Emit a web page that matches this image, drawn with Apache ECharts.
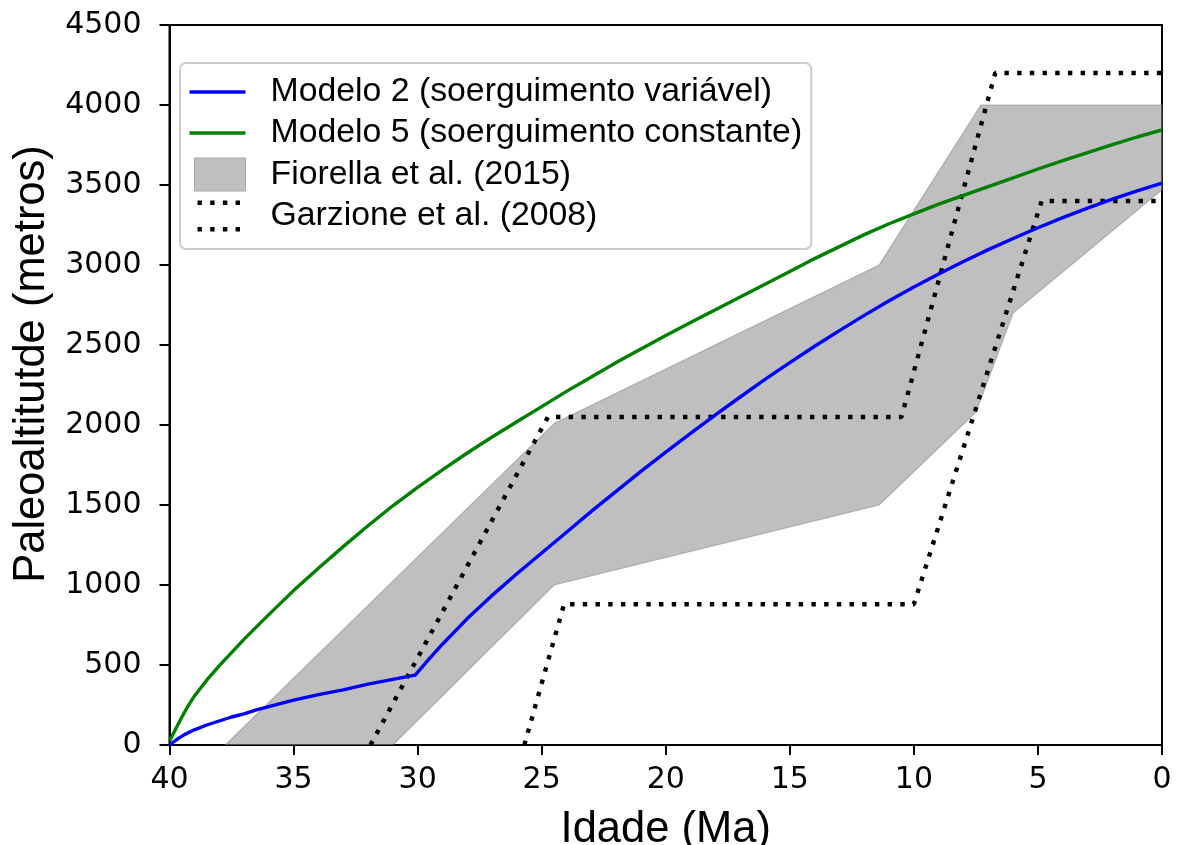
<!DOCTYPE html>
<html>
<head>
<meta charset="utf-8">
<script src="https://cdn.jsdelivr.net/npm/echarts@6/dist/echarts.min.js"></script>
<style>
  html, body { margin: 0; padding: 0; background: #ffffff; }
  #chart { width: 1177px; height: 845px; }
</style>
</head>
<body>
<div id="chart"></div>
<script>
// Idade (Ma) x Paleoaltitude (m)
const ageTicks = [40, 35, 30, 25, 20, 15, 10, 5, 0];
const altTicks = [0, 500, 1000, 1500, 2000, 2500, 3000, 3500, 4000, 4500];

// Modelo 2 (soerguimento variável): [idade, altitude]
const modelo2 = [
  [40, 0], [39.7, 35], [39.4, 65], [39, 95], [38.5, 125], [38, 150], [37.5, 175],
  [37, 195], [36.5, 220], [36, 240], [35, 280], [34, 315], [33, 345], [32, 380],
  [31, 410], [30.1, 437], [29.5, 545], [29, 630], [28, 790], [27, 935], [26, 1070],
  [25, 1200], [24, 1330], [23, 1460], [22, 1585], [21, 1710], [20, 1830], [19, 1948],
  [18, 2063], [17, 2175], [16, 2285], [15, 2390], [14, 2492], [13, 2590], [12, 2685],
  [11, 2776], [10, 2862], [9, 2944], [8, 3022], [7, 3096], [6, 3166], [5, 3233],
  [4, 3296], [3, 3356], [2, 3412], [1, 3463], [0, 3512]
];

// Modelo 5 (soerguimento constante)
const modelo5 = [
  [40, 25], [39.75, 100], [39.5, 175], [39.25, 245], [39, 305], [38.5, 405],
  [38, 495], [37, 660], [36, 815], [35, 965],
  [34, 1105], [33, 1240], [32, 1370], [31, 1495], [30, 1610], [29, 1720], [28, 1825],
  [27, 1925], [26, 2020], [25, 2115], [24, 2210], [23, 2300], [22, 2390], [21, 2475],
  [20, 2560], [19, 2640], [18, 2720], [17, 2800], [16, 2880], [15, 2960], [14, 3040],
  [13, 3115], [12, 3190], [11, 3258], [10, 3320], [9, 3380], [8, 3435], [7, 3490],
  [6, 3545], [5, 3600], [4, 3652], [3, 3702], [2, 3752], [1, 3800], [0, 3845]
];

// Fiorella et al. (2015): upper and lower limits of the envelope
const fiorellaTopo = [[37.75, 0], [24.5, 2010], [11.4, 3000], [7.3, 4000], [0, 4000]];
const fiorellaBase = [[31.0, 0], [24.5, 1000], [11.4, 1500], [7.5, 2080], [6.0, 2700], [0, 3470]];

// Garzione et al. (2008): two stepwise histories
const garzioneA = [[31.9, 0], [24.75, 2050], [10.5, 2050], [6.72, 4200], [0, 4200]];
const garzioneB = [[25.7, 0], [24.1, 880], [10.0, 880], [4.85, 3400], [0, 3400]];

const names = {
  m2: 'Modelo 2 (soerguimento variável)',
  m5: 'Modelo 5 (soerguimento constante)',
  fio: 'Fiorella et al. (2015)',
  gar: 'Garzione et al. (2008)'
};

// Legend icons (76 x 34 boxes; the invisible corner moves fix the box size)
const iconLine = 'path://M0,0M0,15.3L56,15.3L56,18.7L0,18.7ZM76,34';
const iconRect = 'path://M0,0M5,0.5L56,0.5L56,33.5L5,33.5ZM76,34';
function dotRow(y) {
  let d = '';
  [8, 20.7, 33.4, 46.1].forEach(function (x) {
    d += 'M' + x + ',' + y + 'L' + (x + 4.4) + ',' + y + 'L' + (x + 4.4) + ',' + (y + 4.4) + 'L' + x + ',' + (y + 4.4) + 'Z';
  });
  return d;
}
const iconDots = 'path://M0,0' + dotRow(1.5) + dotRow(28.1) + 'M76,34';

const chart = echarts.init(document.getElementById('chart'), null, { renderer: 'canvas' });

const axisCommon = {
  type: 'value',
  axisLine: { show: true, onZero: false, lineStyle: { color: '#000', width: 2 } },
  axisTick: { show: true, inside: false, length: 10, lineStyle: { color: '#000', width: 2 } },
  splitLine: { show: false },
  nameLocation: 'middle',
  nameTextStyle: { fontFamily: 'Liberation Sans', fontSize: 43.5, color: '#000' }
};

const plainNumber = function (v) { return String(v); };

chart.setOption({
  animation: false,
  backgroundColor: '#ffffff',
  grid: {
    left: 169.5, right: 15, top: 25, bottom: 100,
    outerBoundsMode: 'none', containLabel: false,
    show: true, borderColor: '#000', borderWidth: 2, backgroundColor: 'transparent'
  },
  legend: {
    orient: 'vertical',
    left: 180, top: 63,
    padding: [12, 9, 16, 9],
    itemWidth: 76, itemHeight: 34, itemGap: 7,
    backgroundColor: 'rgba(255,255,255,0.8)',
    borderColor: '#cccccc', borderWidth: 2, borderRadius: 6,
    textStyle: { fontFamily: 'Liberation Sans', fontSize: 33.8, color: '#000' },
    itemStyle: { borderWidth: 0 },
    symbolKeepAspect: false,
    selectedMode: false,
    data: [
      { name: names.m2, icon: iconLine },
      { name: names.m5, icon: iconLine },
      { name: names.fio, icon: iconRect, itemStyle: { color: '#bfbfbf', borderColor: '#a9a9a9', borderWidth: 1 } },
      { name: names.gar, icon: iconDots, itemStyle: { color: '#000' } }
    ]
  },
  xAxis: Object.assign({}, axisCommon, {
    inverse: true,
    min: ageTicks[ageTicks.length - 1], max: ageTicks[0], interval: 5,
    name: 'Idade (Ma)', nameGap: 63,
    axisLabel: {
      fontFamily: 'DejaVu Sans', fontSize: 30, color: '#000', margin: 20,
      formatter: plainNumber,
      showMinLabel: true, showMaxLabel: true, hideOverlap: false
    }
  }),
  yAxis: Object.assign({}, axisCommon, {
    min: altTicks[0], max: altTicks[altTicks.length - 1], interval: 500,
    name: 'Paleoaltitutde (metros)', nameGap: 115, nameRotate: 90,
    nameTextStyle: { fontFamily: 'Liberation Sans', fontSize: 43.5, color: '#000', padding: [0, 0, 0, 42] },
    axisLabel: {
      fontFamily: 'DejaVu Sans', fontSize: 30, color: '#000', margin: 28,
      formatter: plainNumber,
      showMinLabel: true, showMaxLabel: true, hideOverlap: false
    }
  }),
  series: [
    {
      name: names.fio,
      type: 'custom',
      z: 1,
      clip: true,
      silent: true,
      itemStyle: { color: '#808080' },
      data: [[fiorellaTopo[0][0], fiorellaTopo[0][1]]],
      renderItem: function (params, api) {
        const ring = fiorellaTopo.concat(fiorellaBase.slice().reverse());
        const pts = ring.map(function (p) { return api.coord(p); });
        return {
          type: 'polygon',
          shape: { points: pts },
          style: { fill: '#808080', stroke: '#808080', lineWidth: 1.2, opacity: 0.5 }
        };
      }
    },
    {
      name: names.gar, type: 'line', z: 3, data: garzioneA,
      showSymbol: false, symbol: 'none', silent: true,
      lineStyle: { color: '#000', width: 4.4, type: [4.4, 8.3], cap: 'butt' },
      itemStyle: { color: '#000' }
    },
    {
      name: names.gar, type: 'line', z: 3, data: garzioneB,
      showSymbol: false, symbol: 'none', silent: true,
      lineStyle: { color: '#000', width: 4.4, type: [4.4, 8.3], cap: 'butt' },
      itemStyle: { color: '#000' }
    },
    {
      name: names.m2, type: 'line', z: 4, data: modelo2,
      showSymbol: false, symbol: 'none', silent: true,
      lineStyle: { color: '#0000ff', width: 3.4 },
      itemStyle: { color: '#0000ff' }
    },
    {
      name: names.m5, type: 'line', z: 4, data: modelo5,
      showSymbol: false, symbol: 'none', silent: true,
      lineStyle: { color: '#008000', width: 3.4 },
      itemStyle: { color: '#008000' }
    }
  ]
});
</script>
</body>
</html>
